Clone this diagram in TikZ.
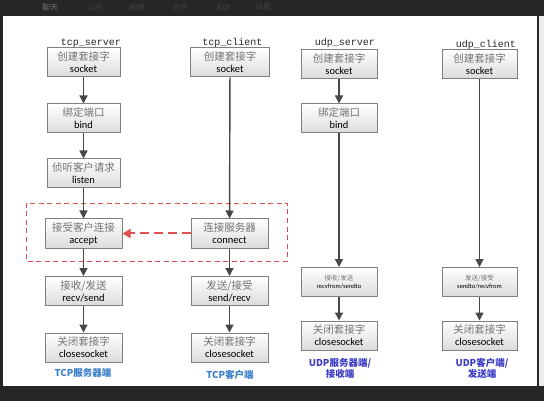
\documentclass[tikz,border=0pt]{standalone}
\usepackage{fontspec}
\setmainfont{Carlito}
\newfontfamily\cjk{Noto Sans CJK SC}
\newfontfamily\mono{Liberation Mono}
\usetikzlibrary{arrows.meta}
\definecolor{frame}{HTML}{262626}
\definecolor{tcpblue}{HTML}{3A7FC8}
\definecolor{udpblue}{HTML}{3B3BC4}
\definecolor{dashred}{HTML}{E05050}
\tikzset{
  box/.style={draw=black!50, line width=1pt, top color=white, bottom color=black!14,
    minimum width=76pt, minimum height=29pt, inner sep=0pt, align=center,
    font=\fontsize{10.5}{12}\selectfont},
  smallbox/.style={box, font=\fontsize{6.5}{8}\selectfont},
  flow/.style={draw=black!72, line width=1.4pt, -{Triangle[length=8pt,width=8pt]}},
  title/.style={font=\mono\fontsize{10}{10}\selectfont, text=black!85, inner sep=0pt},
  endlabel/.style={font=\cjk\bfseries\fontsize{9.5}{11}\selectfont, align=center, inner sep=0pt},
  menu/.style={font=\cjk\fontsize{8}{9}\selectfont, text=black!75, inner sep=0pt}
}
\newcommand{\zh}[1]{{\cjk\color{black!55}#1}}
\begin{document}
\begin{tikzpicture}[x=1pt,y=-1pt]
\useasboundingbox (0,0) rectangle (544,401);
% screenshot frame
\fill[frame] (0,0) rectangle (544,401);
\fill[white] (3,16) rectangle (537,386);
\fill[black!8] (539,16) rectangle (544,386);
\node[menu, text=black!55] (m1) at (50,7) {聊天};
\node[menu] (m2) at (95,7) {公告};
\node[menu] (m3) at (137,7) {相册};
\node[menu] (m4) at (180,7) {文件};
\node[menu] (m5) at (222,7) {活动};
\node[menu] (m6) at (263,7) {设置};

% dashed region
\draw[dashred, line width=0.8pt, dash pattern=on 5pt off 3.5pt] (26,203) rectangle (287,261);

% titles
\node[title] (t1) at (91,43) {tcp\_server};
\node[title] (t2) at (232.5,43) {tcp\_client};
\node[title] (t3) at (345,43) {udp\_server};
\node[title] (t4) at (486,45) {udp\_client};

% TCP server
\node[box, minimum width=73pt] (s1) at (83.5,62.5) {\zh{创建套接字}\\socket};
\node[box, minimum width=73pt] (s2) at (83.5,118.5) {\zh{绑定端口}\\bind};
\node[box, minimum width=73pt] (s3) at (83.5,173.5) {\zh{侦听客户请求}\\listen};
\node[box, minimum width=77pt] (s4) at (83.5,233.5) {\zh{接受客户连接}\\accept};
\node[box, minimum width=77pt] (s5) at (83.5,291) {\zh{接收/发送}\\recv/send};
\node[box, minimum width=77pt] (s6) at (83.5,347.5) {\zh{关闭套接字}\\closesocket};
\node[endlabel, text=tcpblue] (l1) at (83,373) {TCP服务器端};

% TCP client
\node[box, minimum width=79pt] (c1) at (230,62.5) {\zh{创建套接字}\\socket};
\node[box, minimum width=77pt] (c2) at (229.5,233.5) {\zh{连接服务器}\\connect};
\node[box, minimum width=77pt] (c3) at (229.5,291) {\zh{发送/接受}\\send/recv};
\node[box, minimum width=77pt] (c4) at (229.5,347.5) {\zh{关闭套接字}\\closesocket};
\node[endlabel, text=tcpblue] (l2) at (230,375) {TCP客户端};

% UDP server
\node[box] (u1) at (339,64) {\zh{创建套接字}\\socket};
\node[box] (u2) at (339,118.5) {\zh{绑定端口}\\bind};
\node[smallbox] (u3) at (339,282) {\zh{接收/发送}\\recvfrom/sendto};
\node[box] (u4) at (339,335.5) {\zh{关闭套接字}\\closesocket};
\node[endlabel, text=udpblue] (l3) at (340,368.5) {UDP服务器端/\\接收端};

% UDP client
\node[box, minimum width=75pt] (v1) at (479.5,64) {\zh{创建套接字}\\socket};
\node[smallbox, minimum width=75pt] (v2) at (479.5,282) {\zh{发送/接受}\\sendto/recvfrom};
\node[box, minimum width=75pt] (v3) at (479.5,335.5) {\zh{关闭套接字}\\closesocket};
\node[endlabel, text=udpblue] (l4) at (482,368.5) {UDP客户端/\\发送端};

% connectors
\draw[flow] (s1) -- (s2);
\draw[flow] (s2) -- (s3);
\draw[flow] (s3) -- (s4);
\draw[flow] (s4) -- (s5);
\draw[flow] (s5) -- (s6);
\draw[flow] (c1) -- (c2);
\draw[flow] (c2) -- (c3);
\draw[flow] (c3) -- (c4);
\draw[flow] (u1) -- (u2);
\draw[flow] (u2) -- (u3);
\draw[flow] (u3) -- (u4);
\draw[flow] (v1) -- (v2);
\draw[flow] (v2) -- (v3);
\draw[dashred, line width=2pt, dash pattern=on 9pt off 5pt,
  -{Triangle[length=8pt,width=9pt]}] (c2) -- (s4);
\end{tikzpicture}
\end{document}
